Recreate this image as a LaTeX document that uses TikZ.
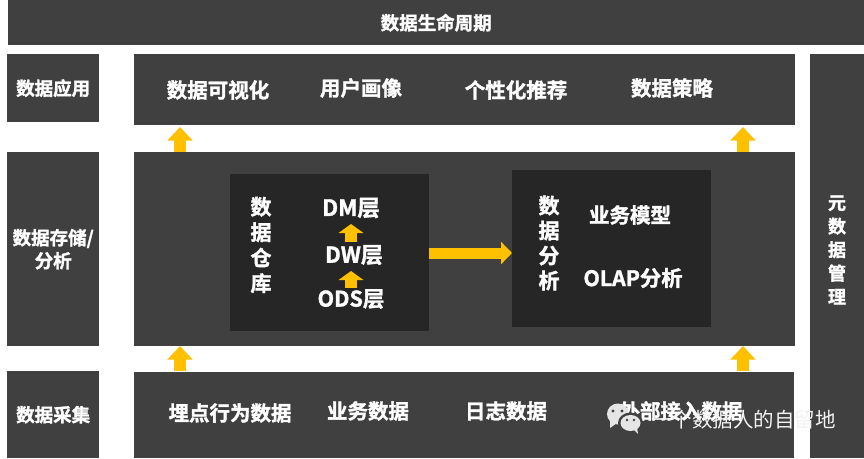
\documentclass[tikz,border=0pt]{standalone}
\usepackage{fontspec}
\setmainfont{Noto Sans CJK SC}[BoldFont={Noto Sans CJK SC Bold},BoldFeatures={FakeBold=1.5}]
\usetikzlibrary{arrows.meta}
\definecolor{panel}{HTML}{404040}
\definecolor{inner}{HTML}{262626}
\definecolor{gold}{HTML}{FFC000}
\tikzset{
  x=1pt,y=-1pt,
  box/.style={fill=panel,draw=none,inner sep=0,anchor=north west,font=\bfseries\fontsize{18.5}{23}\selectfont,text=white,align=center},
  inbox/.style={fill=inner,draw=none,inner sep=0,anchor=north west},
  lbl/.style={text=white,font=\bfseries\fontsize{20.5}{24}\selectfont,inner sep=0},
  upa/.style={draw=gold,line width=12.5pt,-{Triangle[length=13.5pt,width=24.5pt]}},
  upb/.style={draw=gold,line width=12.5pt,-{Triangle[length=9pt,width=24.5pt]}},
  rta/.style={draw=gold,line width=11pt,-{Triangle[length=11pt,width=22pt]}},
}
\begin{document}
\begin{tikzpicture}
\useasboundingbox[fill=white] (0,0) rectangle (864,458);
% panels
\node[box,minimum width=856pt,minimum height=45pt] (life) at (8,0) {数据生命周期};
\node[box,minimum width=92pt,minimum height=68pt] (use) at (7,54) {数据应用};
\node[box,minimum width=92pt,minimum height=194pt] (store) at (7,152) {数据存储/\\分析};
\node[box,minimum width=92pt,minimum height=87pt] (collect) at (7,371) {数据采集};
\node[box,minimum width=661pt,minimum height=71pt] (top) at (134,54) {};
\node[box,minimum width=661pt,minimum height=194pt] (mid) at (134,152) {};
\node[box,minimum width=660pt,minimum height=86pt] (bot) at (134,372) {};
\node[box,minimum width=54pt,minimum height=404pt] (meta) at (810,54) {};
\node[lbl,align=center,font=\bfseries\fontsize{18}{23.5}\selectfont] (metat) at (837,250) {元\\数\\据\\管\\理};
% application row
\node[lbl] (a1) at (218,90) {数据可视化};
\node[lbl] (a2) at (361,88) {用户画像};
\node[lbl] (a3) at (516,90) {个性化推荐};
\node[lbl] (a4) at (672,88) {数据策略};
% collection row
\node[lbl] (c1) at (230,413) {埋点行为数据};
\node[lbl] (c2) at (368,411) {业务数据};
\node[lbl] (c3) at (506,411) {日志数据};
\node[lbl] (c4) at (681,411) {外部接入数据};
% inner boxes
\node[inbox,minimum width=199pt,minimum height=157pt] (dwbox) at (230,174) {};
\node[inbox,minimum width=199pt,minimum height=157pt] (dabox) at (512,170) {};
\node[lbl,align=center,font=\bfseries\fontsize{21}{25.5}\selectfont] (dwt) at (261,245) {数\\据\\仓\\库};
\node[lbl,font=\bfseries\fontsize{22.5}{24}\selectfont] (dm) at (351,208) {DM层};
\node[lbl,font=\bfseries\fontsize{22}{24}\selectfont] (dw) at (354,255) {DW层};
\node[lbl,font=\bfseries\fontsize{21.5}{24}\selectfont] (ods) at (351,299) {ODS层};
\node[lbl,align=center,font=\bfseries\fontsize{21}{25}\selectfont] (dat) at (549,243) {数\\据\\分\\析};
\node[lbl] (biz) at (630,215) {业务模型};
\node[lbl,font=\bfseries\fontsize{21.3}{24}\selectfont] (olap) at (633,278) {OLAP分析};
\node[text=white,font=\bfseries\fontsize{17}{18}\selectfont,inner sep=0] (etl) at (422,360) {ETL预处理};
% arrows
\coordinate (u1s) at (180,152); \coordinate (u1e) at (180,127);
\coordinate (u2s) at (743,152); \coordinate (u2e) at (743,127);
\coordinate (u3s) at (180,371); \coordinate (u3e) at (180,346);
\coordinate (u4s) at (743,371); \coordinate (u4e) at (743,346);
\draw[upa] (u1s) -- (u1e);
\draw[upa] (u2s) -- (u2e);
\draw[upa] (u3s) -- (u3e);
\draw[upa] (u4s) -- (u4e);
\coordinate (dwtop) at (351,242); \coordinate (dmbot) at (351,224);
\coordinate (odstop) at (351,288); \coordinate (dwbot) at (351,271);
\draw[upb] (dwtop) -- (dmbot);
\draw[upb] (odstop) -- (dwbot);
\draw[rta] (dwbox.east |- 0,253) -- (dabox.west |- 0,253);
% watermark
\fill[white!90!black] (618,414) ellipse (11pt and 10.5pt);
\fill[white!90!black] (610,421) -- (610,428) -- (617,423) -- cycle;
\fill[panel] (630.5,423) ellipse (12.5pt and 10.5pt);
\fill[white!90!black] (630.5,423) ellipse (10pt and 8pt);
\fill[white!90!black] (633,429) -- (638,434) -- (637,427) -- cycle;
\fill[panel] (613,411) circle (1.6pt) (622,411) circle (1.6pt) (627,420) circle (1.3pt) (634,420) circle (1.3pt);
\node[text=white!95!black,font=\fontsize{20.5}{22}\selectfont,inner sep=0,anchor=west] (wm) at (651,420) {一个数据人的自留地};
\end{tikzpicture}
\end{document}
